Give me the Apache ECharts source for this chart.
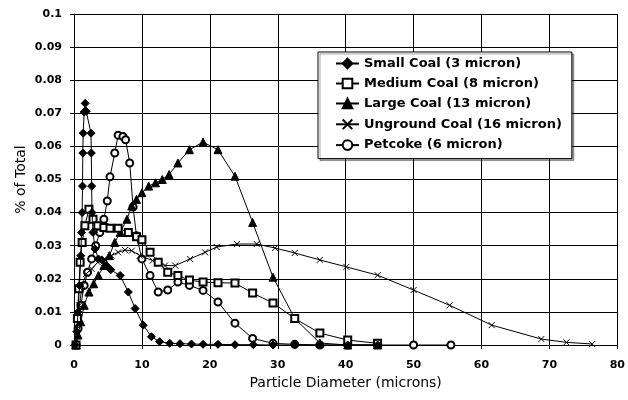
<!DOCTYPE html>
<html>
<head>
<meta charset="utf-8">
<script src="https://cdn.jsdelivr.net/npm/echarts@6/dist/echarts.min.js"></script>
<style>
  html, body { margin: 0; padding: 0; background: #fff; }
  #chart { width: 628px; height: 400px; }
</style>
</head>
<body>
<div id="chart"></div>
<script>
// Axis ticks
const xTicks = [0, 10, 20, 30, 40, 50, 60, 70, 80];
const yTicks = [0, 0.01, 0.02, 0.03, 0.04, 0.05, 0.06, 0.07, 0.08, 0.09, 0.1];

// Series names
const seriesNames = [
  'Small Coal (3 micron)',
  'Medium Coal (8 micron)',
  'Large Coal (13 micron)',
  'Unground Coal (16 micron)',
  'Petcoke (6 micron)'
];

// [particle diameter (microns), fraction of total]
const smallCoal = [
  [0.2, 0], [0.4, 0.004], [0.6, 0.010], [0.8, 0.018], [1.0, 0.027], [1.1, 0.034],
  [1.2, 0.040], [1.25, 0.048], [1.3, 0.058], [1.35, 0.064], [1.5, 0.0704], [1.65, 0.073],
  [1.8, 0.0706], [2.5, 0.064], [2.55, 0.058], [2.6, 0.048], [2.65, 0.040], [2.8, 0.034],
  [3.1, 0.029], [3.6, 0.026], [4.1, 0.0257], [4.8, 0.024], [5.4, 0.0227], [6.8, 0.021],
  [8.0, 0.016], [9.0, 0.011], [10.2, 0.006], [11.4, 0.0025], [12.6, 0.001], [14.1, 0.0005],
  [15.6, 0.0004], [17.3, 0.0003], [19.0, 0.0002], [21.2, 0.0002], [23.7, 0.0001],
  [26.4, 0.0001], [29.3, 0], [32.5, 0], [36.2, 0], [40.3, 0], [44.7, 0]
];

const mediumCoal = [
  [0.3, 0], [0.5, 0.008], [0.7, 0.017], [0.9, 0.025], [1.2, 0.031], [1.6, 0.036],
  [2.2, 0.041], [2.8, 0.038], [3.5, 0.036], [4.4, 0.0355], [5.3, 0.0353], [6.5, 0.0353],
  [8.0, 0.034], [9.2, 0.0327], [10.0, 0.0318], [11.2, 0.028], [12.4, 0.025], [13.8, 0.022],
  [15.3, 0.021], [17.0, 0.0196], [19.0, 0.019], [21.2, 0.0188], [23.7, 0.0187],
  [26.3, 0.0157], [29.3, 0.0127], [32.5, 0.008], [36.2, 0.0036], [40.3, 0.0015], [44.7, 0.0005]
];

const largeCoal = [
  [0.3, 0], [0.6, 0.003], [1.0, 0.007], [1.5, 0.012], [2.2, 0.016], [2.9, 0.0185],
  [3.6, 0.021], [4.4, 0.024], [5.2, 0.027], [6.0, 0.031], [6.8, 0.034], [7.8, 0.038],
  [8.5, 0.042], [9.2, 0.044], [10.0, 0.046], [11.0, 0.048], [12.0, 0.049], [13.0, 0.050],
  [14.0, 0.0515], [15.3, 0.055], [17.0, 0.059], [19.0, 0.0613], [21.2, 0.059],
  [23.7, 0.051], [26.3, 0.037], [29.3, 0.0205], [32.5, 0.008], [36.2, 0.0006],
  [40.3, 0], [44.7, 0]
];

const ungroundCoal = [
  [0.3, 0], [0.5, 0.005], [0.8, 0.012], [1.2, 0.018], [1.8, 0.0215], [2.6, 0.023],
  [3.5, 0.025], [4.5, 0.026], [5.5, 0.027], [6.5, 0.028], [7.5, 0.0287], [8.5, 0.0285],
  [9.7, 0.027], [11.6, 0.0255], [13.4, 0.024], [14.9, 0.024], [17.1, 0.026], [19.3, 0.028],
  [21.0, 0.0296], [24.0, 0.0305], [26.9, 0.0305], [29.6, 0.0293], [32.5, 0.0278],
  [36.2, 0.0257], [40.1, 0.0236], [44.7, 0.0211], [50.0, 0.0166], [55.3, 0.012],
  [61.5, 0.006], [68.8, 0.0018], [72.5, 0.0008], [76.3, 0.0003]
];

const petcoke = [
  [0.3, 0], [0.6, 0.005], [1.0, 0.012], [1.5, 0.018], [2.0, 0.022], [2.6, 0.026],
  [3.2, 0.030], [3.8, 0.034], [4.4, 0.038], [4.9, 0.0435], [5.3, 0.0508], [6.0, 0.058],
  [6.5, 0.0634], [7.2, 0.063], [7.6, 0.062], [8.2, 0.055], [8.7, 0.0417], [9.2, 0.033],
  [10.0, 0.026], [11.2, 0.021], [12.4, 0.016], [13.8, 0.0166], [15.3, 0.019],
  [17.0, 0.018], [19.0, 0.0165], [21.2, 0.013], [23.7, 0.0066], [26.3, 0.002],
  [29.3, 0.0005], [32.5, 0.0002], [36.2, 0], [40.3, 0], [50.0, 0], [55.5, 0]
];

const seriesData = [smallCoal, mediumCoal, largeCoal, ungroundCoal, petcoke];
const seriesSymbols = [
  'diamond',
  'emptyRect',
  'triangle',
  'path://M0,0L10,10M10,0L0,10',
  'emptyCircle'
];
const seriesSymbolSizes = [8, 7, 8, 6, 7];

const labelFont = { fontFamily: 'DejaVu Sans', fontWeight: 'bold', fontSize: 11, color: '#000' };

const chart = echarts.init(document.getElementById('chart'), null, { renderer: 'canvas' });

const series = seriesNames.map((name, i) => {
  const isCross = i === 3;
  return {
    name,
    type: 'line',
    data: seriesData[i],
    symbol: seriesSymbols[i],
    symbolSize: seriesSymbolSizes[i],
    showAllSymbol: true,
    lineStyle: { color: '#000', width: 1 },
    itemStyle: isCross
      ? { color: 'none', borderColor: '#000', borderWidth: 1 }
      : { color: '#000', borderColor: '#000', borderWidth: 1 },
    emphasis: { disabled: true },
    animation: false,
    z: 10 - i
  };
});

chart.setOption({
  backgroundColor: '#fff',
  animation: false,
  grid: { left: 74, right: 10, top: 14, bottom: 55 },
  legend: {
    orient: 'vertical',
    left: 318,
    top: 52,
    data: seriesNames,
    itemWidth: 23,
    itemHeight: 12,
    itemGap: 7,
    padding: [5, 10, 7, 17],
    backgroundColor: '#fff',
    borderColor: '#000',
    borderWidth: 1,
    shadowColor: 'rgba(0,0,0,0.35)',
    shadowOffsetX: 2,
    shadowOffsetY: 2,
    textStyle: { fontFamily: 'DejaVu Sans', fontWeight: 'bold', fontSize: 13, color: '#000' },
    selectedMode: false
  },
  xAxis: {
    type: 'value',
    min: xTicks[0],
    max: xTicks[xTicks.length - 1],
    interval: xTicks[1] - xTicks[0],
    name: 'Particle Diameter (microns)',
    nameLocation: 'middle',
    nameGap: 30,
    nameTextStyle: { fontFamily: 'DejaVu Sans', fontSize: 14, color: '#000' },
    axisLine: { lineStyle: { color: '#000', width: 1 } },
    axisTick: { show: true, length: 4, lineStyle: { color: '#000' } },
    axisLabel: Object.assign({ margin: 15 }, labelFont),
    splitLine: { show: true, lineStyle: { color: '#000', width: 1 } }
  },
  yAxis: {
    type: 'value',
    min: yTicks[0],
    max: yTicks[yTicks.length - 1],
    interval: yTicks[1] - yTicks[0],
    name: '% of Total',
    nameLocation: 'middle',
    nameGap: 46,
    nameMoveOverlap: false,
    nameRotate: 90,
    nameTextStyle: { fontFamily: 'DejaVu Sans', fontSize: 14, color: '#000' },
    axisLine: { show: true, lineStyle: { color: '#000', width: 1 } },
    axisTick: { show: true, length: 4, lineStyle: { color: '#000' } },
    axisLabel: Object.assign({
      margin: 12,
      formatter: v => String(parseFloat(v.toFixed(2)))
    }, labelFont),
    splitLine: { show: true, lineStyle: { color: '#000', width: 1 } }
  },
  series
});
</script>
</body>
</html>
